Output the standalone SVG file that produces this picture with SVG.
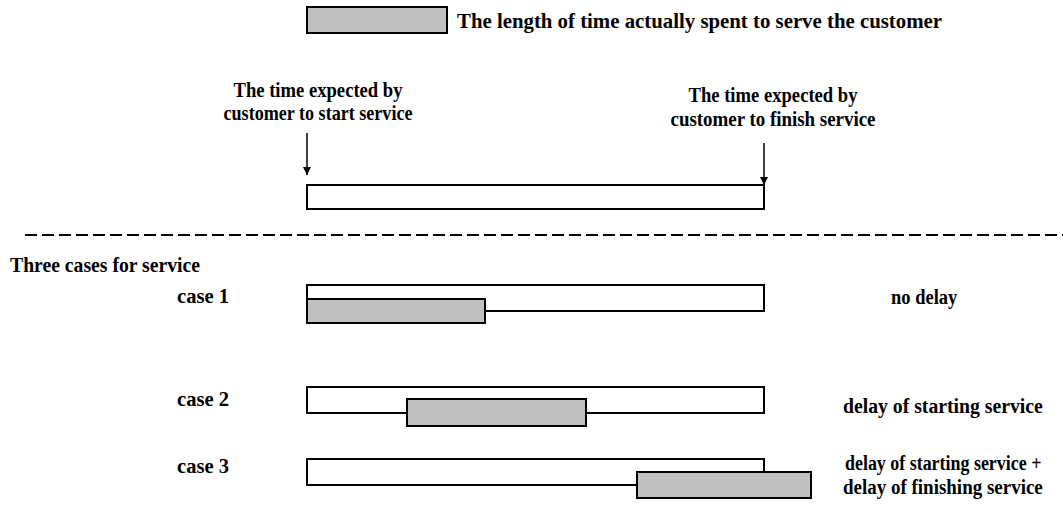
<svg xmlns="http://www.w3.org/2000/svg" width="1063" height="532" viewBox="0 0 1063 532">
<style>
text{font-family:"Liberation Serif","Times New Roman",serif;font-weight:bold;font-size:22px;fill:#000}
.bar{fill:#fff;stroke:#000;stroke-width:2}
.svc{fill:#c0c0c0;stroke:#000;stroke-width:2}
.conn{stroke:#000;stroke-width:1.5;fill:none}
</style>
<defs>
<marker id="ah" viewBox="0 0 8 9" refX="8" refY="4.5" markerWidth="8" markerHeight="9" markerUnits="userSpaceOnUse" orient="auto">
<path d="M0,0.5 L8,4.5 L0,8.5 Z" fill="#000"/>
</marker>
</defs>
<rect width="1063" height="532" fill="#fff"/>

<g id="legend">
<rect class="svc" x="307" y="7" width="140" height="26"/>
<text x="457" y="28" textLength="485" lengthAdjust="spacingAndGlyphs">The length of time actually spent to serve the customer</text>
</g>

<g id="label-start">
<text x="318" y="97" text-anchor="middle" textLength="169" lengthAdjust="spacingAndGlyphs">The time expected by</text>
<text x="318" y="120" text-anchor="middle" textLength="189" lengthAdjust="spacingAndGlyphs">customer to start service</text>
</g>
<g id="label-finish">
<text x="773" y="102" text-anchor="middle" textLength="169" lengthAdjust="spacingAndGlyphs">The time expected by</text>
<text x="773" y="126" text-anchor="middle" textLength="205" lengthAdjust="spacingAndGlyphs">customer to finish service</text>
</g>

<g id="expected-window">
<rect class="bar" x="307" y="185" width="457" height="24"/>
</g>

<g id="connectors">
<line class="conn" x1="307" y1="133" x2="307" y2="175" marker-end="url(#ah)"/>
<line class="conn" x1="764" y1="143" x2="764" y2="185" marker-end="url(#ah)"/>
<line x1="25" y1="235" x2="1063" y2="235" stroke="#000" stroke-width="2" stroke-dasharray="12 5"/>
</g>

<g id="title">
<text x="10" y="272" textLength="190" lengthAdjust="spacingAndGlyphs">Three cases for service</text>
</g>

<g id="case1">
<text x="177" y="303" textLength="52" lengthAdjust="spacingAndGlyphs">case 1</text>
<rect class="bar" x="307" y="285" width="457" height="26"/>
<rect class="svc" x="307" y="299" width="178" height="24"/>
<text transform="translate(891,304) scale(0.85,1)" x="0" y="0" textLength="78" lengthAdjust="spacingAndGlyphs">no delay</text>
</g>

<g id="case2">
<text x="177" y="406" textLength="52" lengthAdjust="spacingAndGlyphs">case 2</text>
<rect class="bar" x="307" y="387" width="457" height="26"/>
<rect class="svc" x="407" y="399" width="179" height="27"/>
<text transform="translate(843,413) scale(0.85,1)" x="0" y="0" textLength="235" lengthAdjust="spacingAndGlyphs">delay of starting service</text>
</g>

<g id="case3">
<text x="177" y="473" textLength="52" lengthAdjust="spacingAndGlyphs">case 3</text>
<rect class="bar" x="307" y="459" width="457" height="26"/>
<rect class="svc" x="637" y="472" width="174" height="26"/>
<text transform="translate(845,470) scale(0.85,1)" x="0" y="0" textLength="231" lengthAdjust="spacingAndGlyphs">delay of starting service +</text>
<text transform="translate(843,494) scale(0.85,1)" x="0" y="0" textLength="235" lengthAdjust="spacingAndGlyphs">delay of finishing service</text>
</g>
</svg>
